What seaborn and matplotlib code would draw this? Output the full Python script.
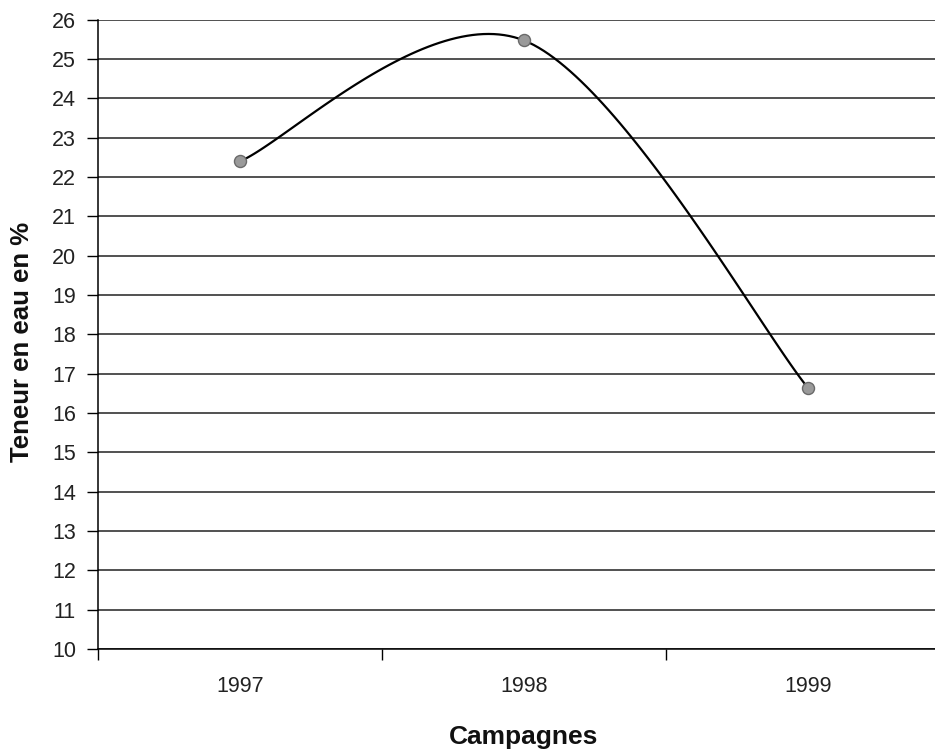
import numpy as np
import pandas as pd
import matplotlib
matplotlib.use("Agg")
import matplotlib.pyplot as plt
import seaborn as sns

# Data
campagnes = ["1997", "1998", "1999"]
teneur = [22.4, 25.47, 16.64]
y_ticks = list(range(10, 27))

sns.set_theme(style="white")
plt.rcParams['font.family'] = ['Liberation Sans', 'DejaVu Sans']

fig = plt.figure(figsize=(9.35, 7.54), dpi=100)
ax = fig.add_axes([0.105, 0.139, 0.911, 0.835])

xs = np.arange(len(campagnes), dtype=float)
ys = np.array(teneur, dtype=float)

# Excel-like smoothed line (Catmull-Rom Bezier) rendered from the data points
def smooth(xp, yp, n=60):
    P = np.column_stack([xp, yp])
    out = []
    m = len(P)
    for i in range(m - 1):
        p0 = P[i - 1] if i > 0 else P[i]
        p1 = P[i]
        p2 = P[i + 1]
        p3 = P[i + 2] if i + 2 < m else P[i + 1]
        c1 = p1 + (p2 - p0) / 6.0
        c2 = p2 - (p3 - p1) / 6.0
        t = np.linspace(0, 1, n)[:, None]
        seg = ((1 - t) ** 3) * p1 + 3 * ((1 - t) ** 2) * t * c1 + 3 * (1 - t) * t ** 2 * c2 + t ** 3 * p2
        out.append(seg if i == 0 else seg[1:])
    return np.vstack(out)

curve = smooth(xs, ys)
df_curve = pd.DataFrame({"x": curve[:, 0], "y": curve[:, 1]})
df_pts = pd.DataFrame({"x": xs, "y": ys})

sns.lineplot(data=df_curve, x="x", y="y", sort=False, color="black", lw=1.6, ax=ax, zorder=3)
sns.scatterplot(data=df_pts, x="x", y="y", s=75, color="#9a9a9a", edgecolor="#6a6a6a",
                linewidth=1.0, ax=ax, zorder=4)

ax.set_xlim(-0.5, 2.5)
ax.set_ylim(10, 26)
ax.set_yticks(y_ticks)
ax.set_yticklabels([str(v) for v in y_ticks])
ax.grid(axis="y", color="#222222", linewidth=1.1)
ax.grid(axis="x", visible=False)
ax.set_axisbelow(True)

# Category boundaries as major ticks, labels as minor ticks
ax.set_xticks([-0.5, 0.5, 1.5, 2.5])
ax.set_xticklabels([])
ax.set_xticks(xs, minor=True)
ax.set_xticklabels(campagnes, minor=True)
ax.tick_params(axis="x", which="major", length=8, width=1, color="black", direction="out", bottom=True)
ax.tick_params(axis="x", which="minor", length=0, pad=19, labelsize=15.5, labelcolor="#222222")
ax.tick_params(axis="y", length=8, width=1, color="black", direction="out", left=True, pad=8,
               labelsize=15.5, labelcolor="#222222")

for s in ["top", "right"]:
    ax.spines[s].set_visible(False)
for s in ["left", "bottom"]:
    ax.spines[s].set_color("black")
    ax.spines[s].set_linewidth(1.1)

ax.set_xlabel("")
ax.set_ylabel("")
fig.text(0.0235, 0.546, "Teneur en eau en %", rotation=90, ha="center", va="center",
         fontsize=18.5, fontweight="bold", color="#111111")
fig.text(0.560, 0.022, "Campagnes", ha="center", va="center",
         fontsize=19, fontweight="bold", color="#111111")

fig.savefig("out.png", dpi=100)
